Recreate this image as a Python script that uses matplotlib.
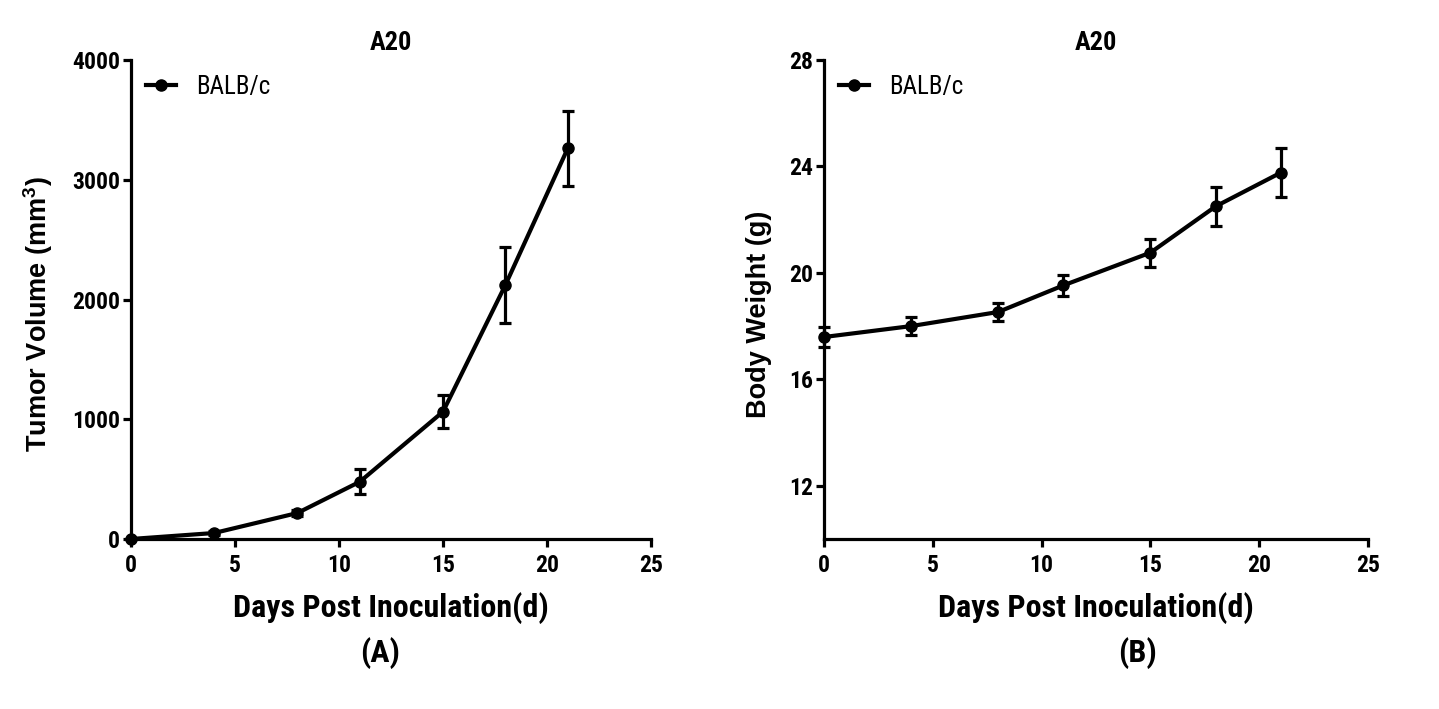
import matplotlib
matplotlib.use('Agg')
import matplotlib.pyplot as plt
from matplotlib.lines import Line2D
import numpy as np

narrow = ['Roboto Condensed', 'Liberation Sans', 'DejaVu Sans']
wide = ['Liberation Sans', 'DejaVu Sans']
plt.rcParams['font.family'] = narrow
plt.rcParams['mathtext.fontset'] = 'custom'
plt.rcParams['mathtext.bf'] = 'Liberation Sans:bold'
plt.rcParams['mathtext.rm'] = 'Liberation Sans:bold'

# data
days = [0, 4, 8, 11, 15, 18, 21]
tumor_volume = [0, 50, 217, 478, 1063, 2121, 3263]
tumor_err = [0, 20, 25, 104, 138, 317, 313]
body_weight = [17.59, 18.0, 18.53, 19.53, 20.76, 22.50, 23.77]
weight_err = [0.38, 0.35, 0.35, 0.39, 0.52, 0.74, 0.92]

series_name = 'BALB/c'
panel_title = 'A20'
xlabel = 'Days Post Inoculation(d)'

fig = plt.figure(figsize=(14.39, 7.09), dpi=100)
ax1 = fig.add_axes([131/1439, 170/709, 520/1439, 479/709])
ax2 = fig.add_axes([824/1439, 170/709, 544/1439, 479/709])

def style(ax):
    for s in ['top', 'right']:
        ax.spines[s].set_visible(False)
    for s in ['left', 'bottom']:
        ax.spines[s].set_linewidth(2.3)
    ax.tick_params(width=2.3, length=6, labelsize=17)
    ax.tick_params(axis='x', pad=5)
    ax.tick_params(axis='y', pad=2)
    ax.set_xlim(0, 25)
    ax.set_xticks([0, 5, 10, 15, 20, 25])
    ax.set_xlabel(xlabel, fontsize=23, fontweight='bold', labelpad=11)
    ax.set_title(panel_title, fontsize=19, fontweight='bold', pad=7)
    handle = Line2D([], [], color='black', lw=3, marker='o', ms=8)
    ax.legend([handle], [series_name], loc='upper left', frameon=False, fontsize=18,
              handlelength=1.2, handletextpad=0.8, borderaxespad=0.2,
              bbox_to_anchor=(0.0, 1.0))
    for lab in ax.get_xticklabels() + ax.get_yticklabels():
        lab.set_fontweight('bold')
    ax.yaxis.label.set_family(wide)
    ax.yaxis.label.set_fontweight('bold')
    ax.yaxis.label.set_fontsize(19.5)
    ax.yaxis.label.set_y(0.47)

ax1.errorbar(days, tumor_volume, yerr=tumor_err, color='black', lw=3,
             marker='o', ms=8, capsize=4, capthick=2.3, elinewidth=2.3,
             clip_on=False, zorder=5)
ax1.set_ylim(0, 4000)
ax1.set_yticks([0, 1000, 2000, 3000, 4000])
ax1.set_ylabel(r'Tumor Volume (mm$^\mathbf{3}$)', labelpad=12)
style(ax1)

ax2.errorbar(days, body_weight, yerr=weight_err, color='black', lw=3,
             marker='o', ms=8, capsize=4, capthick=2.3, elinewidth=2.3,
             clip_on=False, zorder=5)
ax2.set_ylim(10, 28)
ax2.set_yticks([12, 16, 20, 24, 28])
ax2.set_ylabel('Body Weight (g)', labelpad=12)
style(ax2)

fig.text(380/1439, 1 - 653/709, '(A)', fontsize=23, fontweight='bold', ha='center', va='center')
fig.text(1137/1439, 1 - 653/709, '(B)', fontsize=23, fontweight='bold', ha='center', va='center')

fig.savefig('out.png', dpi=100)
